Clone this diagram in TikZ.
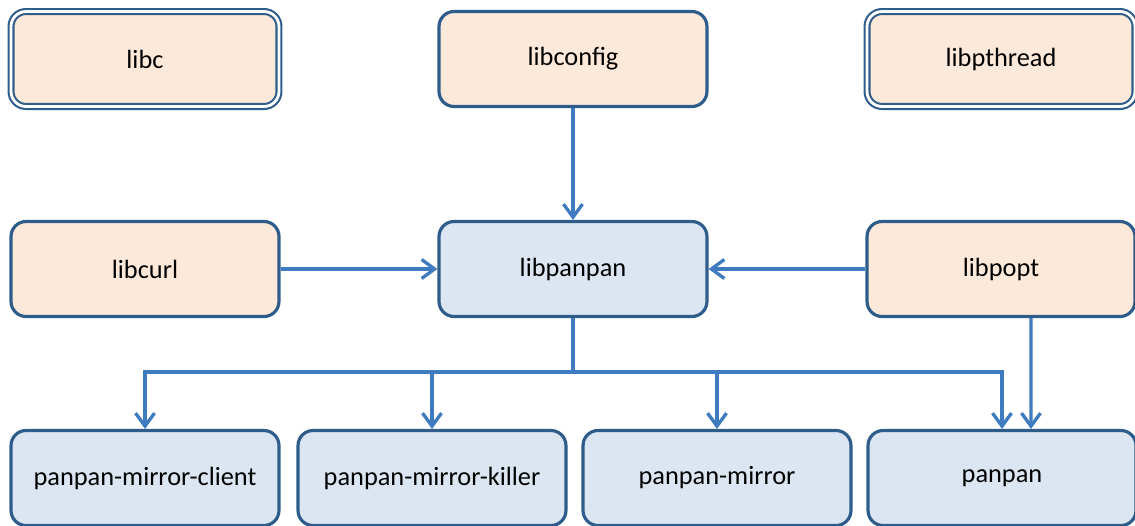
\documentclass[tikz,border=0pt]{standalone}
\usepackage{fontspec}
\setmainfont{Carlito}
\usetikzlibrary{arrows.meta}
\definecolor{boxline}{HTML}{2E5D8C}
\definecolor{arrowline}{HTML}{3F7BBF}
\definecolor{extfill}{HTML}{FDE9DA}
\definecolor{ownfill}{HTML}{DCE6F2}
\tikzstyle{every picture}=[x=0.02cm, y=-0.02cm]
\tikzstyle{libbox}=[draw=boxline, line width=1.8pt, rounded corners=0.3cm, minimum width=5.36cm, minimum height=1.9cm, inner sep=0pt, font=\fontsize{15}{18}\selectfont]
\tikzstyle{extlib}=[libbox, fill=extfill]
\tikzstyle{ownlib}=[libbox, fill=ownfill]
\tikzstyle{syslib}=[extlib, line width=1.2pt, double=white, double distance=1.6pt]
\tikzstyle{dep}=[draw=arrowline, line width=1.9pt, -{Straight Barb[length=0.26cm, width=0.38cm, line width=1.9pt]}]

\begin{document}
\begin{tikzpicture}
	\useasboundingbox (0,0) rectangle (1135,525);

	\path (145,59) node[syslib] (libc) {libc}
	      (573,59) node[extlib] (libconfig) {libconfig}
	      (1001,59) node[syslib] (libpthread) {libpthread}
	      (145,269) node[extlib] (libcurl) {libcurl}
	      (573,269) node[ownlib] (libpanpan) {libpanpan}
	      (1001,269) node[extlib] (libpopt) {libpopt}
	      (145,478) node[ownlib] (client) {panpan-mirror-client}
	      (432,478) node[ownlib] (killer) {panpan-mirror-killer}
	      (717,478) node[ownlib] (mirror) {panpan-mirror}
	      (1002,478) node[ownlib] (panpan) {panpan};

	\coordinate (split) at (573,372);

	\draw[dep] (libconfig) -- (libpanpan);
	\draw[dep] (libcurl) -- (libpanpan);
	\draw[dep] (libpopt) -- (libpanpan);
	\draw[draw=arrowline, line width=1.9pt] (libpanpan) -- (split);
	\draw[dep] (split) -| (client);
	\draw[dep] (split) -| (killer);
	\draw[dep] (split) -| (mirror);
	\draw[dep] (split) -| (panpan);
	\draw[dep] ([xshift=0.6cm]libpopt.south) -- ([xshift=0.58cm]panpan.north);

\end{tikzpicture}
\end{document}
